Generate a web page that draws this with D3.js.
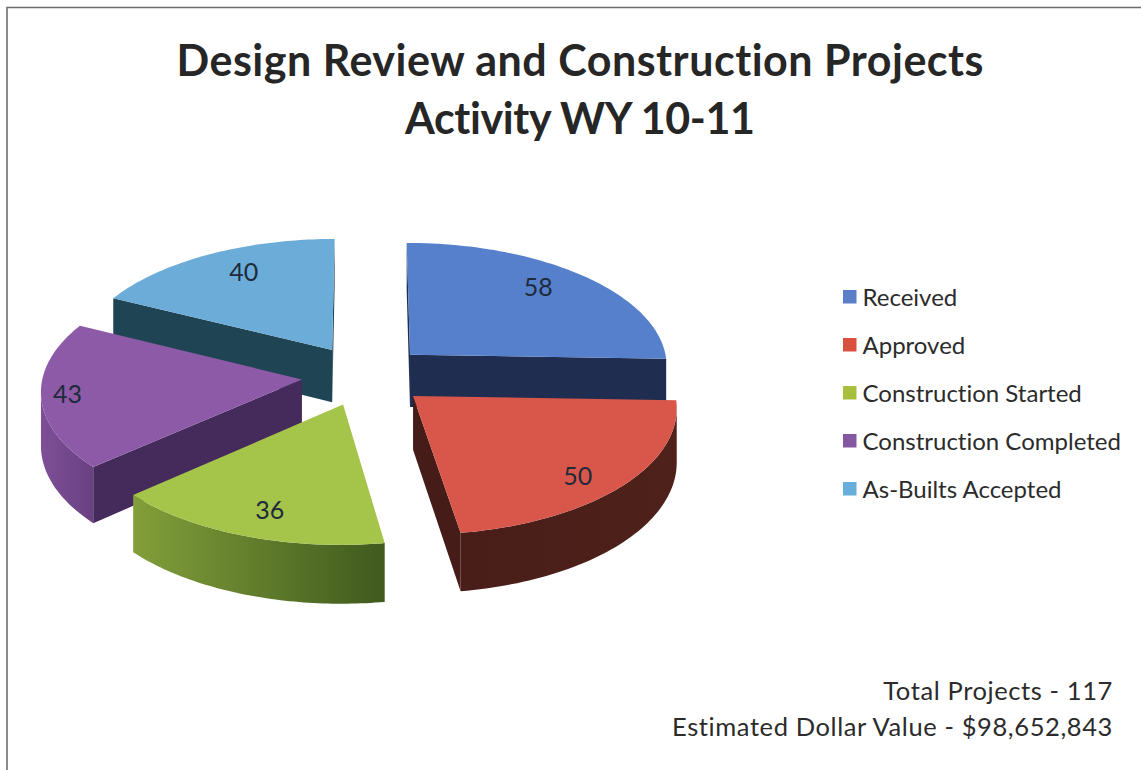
<!DOCTYPE html>
<html><head><meta charset="utf-8">
<script src="https://cdn.jsdelivr.net/npm/d3@7"></script>
<style>html,body{margin:0;padding:0;background:#fff}svg{display:block}text{font-family:Lato,"Open Sans",sans-serif;font-variant-ligatures:none}</style>
</head><body><svg id="c" width="1141" height="770"></svg>
<script>
const titleLines = ["Design Review and Construction Projects", "Activity WY 10-11"];
const categories = ["Received", "Approved", "Construction Started", "Construction Completed", "As-Builts Accepted"];
const values = [58, 50, 36, 43, 40];
const footerLines = ["Total Projects - 117", "Estimated Dollar Value - $98,652,843"];
const topColors = ["#5680cc", "#d9564a", "#a5c44a", "#8c5aa6", "#6cacd9"];
const cutColors = ["#1f2e50", "#451c17", "#3f5a1d", "#452a5c", "#1f4454"];
const wallFrom = ["#1f2e50", "#4a1e18", "#829f3a", "#7e4f97", "#1f4454"];
const wallTo = ["#1f2e50", "#4e221b", "#3f5a1d", "#6a4082", "#1f4454"];
const legendColors = ["#5a7fc8", "#d9503f", "#a8bf3e", "#8458a0", "#68aedb"];
const drawOrder = [4, 0, 3, 1, 2];
const labelRadius = [0.79, 0.84, 0.81, 0.90, 0.775];
const labelAngleShift = [-3.5, 4, -1.5, 0, 3];
const titleWidths = [807, 350];

// layout of the perspective pie
const cx = 365, cy = 375.5, B = 259, A = 124, P = 0.0806, D = 53, explode = 0.245;
const svg = d3.select("#c");
const project = (x, y, z) => { const s = 1 / (1 + P * y); return [cx + B * x * s, cy - A * y * s + D * z * s]; };

const slices = d3.pie().sort(null).startAngle(0).endAngle(2 * Math.PI)(values);
const line = d3.line();
const defs = svg.append("defs");

// frame
svg.append("path").attr("d", "M7,770V7.5H1141").attr("fill", "none").attr("stroke", "#6e6e6e").attr("stroke-width", 1.6);

// title
svg.append("g").selectAll("text").data(titleLines).join("text")
  .attr("x", 580).attr("y", (d, i) => 75.5 + i * 58).attr("text-anchor", "middle")
  .attr("textLength", (d, i) => titleWidths[i]).attr("lengthAdjust", "spacing")
  .attr("font-size", 43).attr("font-weight", 700).attr("fill", "#262626").text(d => d);

// pie: only faces turned to the viewer are drawn
const facing = (p, q) => d3.polygonArea([p[0], q[0], q[1], p[1]]) > 0;
const pieG = svg.append("g");
drawOrder.forEach(i => {
  const s = slices[i], mid = (s.startAngle + s.endAngle) / 2;
  const ox = explode * Math.sin(mid), oy = explode * Math.cos(mid);
  const pt = (a, r, z) => project(ox + r * Math.sin(a), oy + r * Math.cos(a), z);
  const rim = a => [pt(a, 1, 0), pt(a, 1, 1)];
  const apex = [pt(0, 0, 0), pt(0, 0, 1)];
  const angles = d3.range(0, 61).map(k => s.startAngle + (s.endAngle - s.startAngle) * k / 60);
  const g = pieG.append("g");
  const id = "wall" + i;
  const grad = defs.append("linearGradient").attr("id", id);
  grad.append("stop").attr("offset", 0).attr("stop-color", wallFrom[i]);
  grad.append("stop").attr("offset", 1).attr("stop-color", wallTo[i]);
  // outer wall
  const front = angles.filter((a, k) => (k < 60 && facing(rim(a), rim(angles[k + 1]))) || (k > 0 && facing(rim(angles[k - 1]), rim(a))));
  if (front.length > 1) {
    const wall = front.map(a => pt(a, 1, 0)).concat(front.slice().reverse().map(a => pt(a, 1, 1)));
    g.append("path").attr("d", line(wall) + "Z").attr("fill", `url(#${id})`);
  }
  // cut faces
  [[apex, rim(s.startAngle)], [rim(s.endAngle), apex]].forEach(([p, q]) => {
    if (facing(p, q)) g.append("path").attr("d", line([p[0], q[0], q[1], p[1]]) + "Z").attr("fill", cutColors[i]);
  });
  // top
  const top = [pt(0, 0, 0)].concat(angles.map(a => pt(a, 1, 0)));
  g.append("path").attr("d", line(top) + "Z").attr("fill", topColors[i]);
});

// value labels
svg.append("g").selectAll("text").data(slices).join("text")
  .attr("text-anchor", "middle").attr("font-size", 25).attr("fill", "#1d2b3a")
  .attr("transform", (s, i) => {
    const mid = (s.startAngle + s.endAngle) / 2;
    const a = mid + labelAngleShift[i] * Math.PI / 180, r = labelRadius[i];
    const p = project(explode * Math.sin(mid) + r * Math.sin(a), explode * Math.cos(mid) + r * Math.cos(a), 0);
    return `translate(${p[0]},${p[1] + 8.5})`;
  }).text(s => s.value);

// legend
const legendY = d3.scalePoint().domain(categories).range([297, 489]);
const leg = svg.append("g").selectAll("g").data(categories).join("g")
  .attr("transform", d => `translate(843,${legendY(d)})`);
leg.append("rect").attr("x", 0).attr("y", -7).attr("width", 13.5).attr("height", 13.5).attr("fill", (d, i) => legendColors[i]);
leg.append("text").attr("x", 19.5).attr("y", 8.5).attr("font-size", 24).attr("letter-spacing", 0).attr("fill", "#2b2b2b").text(d => d);

// footer
svg.append("g").selectAll("text").data(footerLines).join("text")
  .attr("x", 1113).attr("y", (d, i) => 700 + i * 36).attr("text-anchor", "end")
  .attr("font-size", 25.5).attr("letter-spacing", 0.6).attr("fill", "#2b2b2b").text(d => d);
</script></body></html>
